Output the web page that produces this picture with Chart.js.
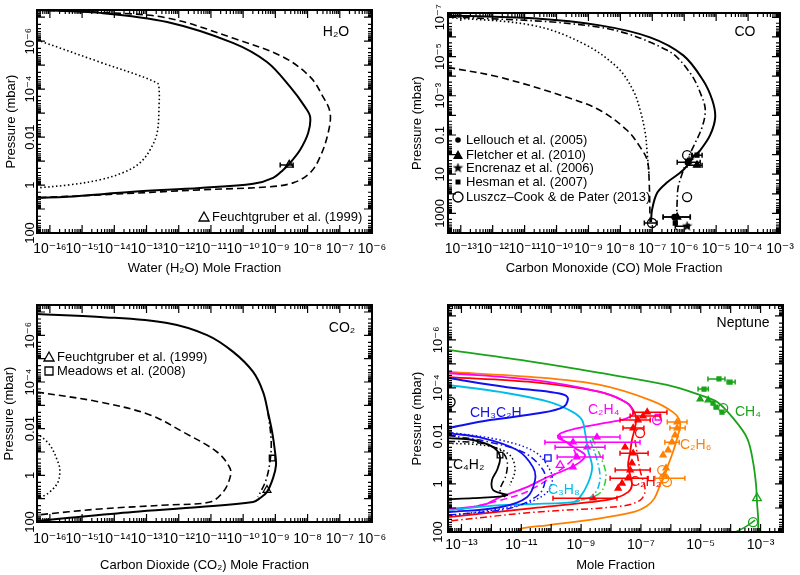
<!DOCTYPE html>
<html>
<head>
<meta charset="utf-8">
<title>H2O, CO, CO2 and Neptune hydrocarbon profiles</title>
<style>
*{padding:0;margin:0;box-sizing:border-box}
body{width:800px;height:575px;background:#fff;position:relative;overflow:hidden}
canvas{position:absolute}
</style>
</head>
<body>
<canvas id="h2oChart" width="400" height="287" style="left:0;top:0"></canvas>
<canvas id="coChart" width="400" height="287" style="left:400px;top:0"></canvas>
<canvas id="co2Chart" width="400" height="288" style="left:0;top:287px"></canvas>
<canvas id="nepChart" width="400" height="288" style="left:400px;top:287px"></canvas>
<script src="https://cdn.jsdelivr.net/npm/chart.js@4"></script>
<script>
Chart.defaults.font.family = "'Liberation Sans', Arial, 'DejaVu Sans', sans-serif";
Chart.defaults.font.size = 13;
Chart.defaults.color = '#000';

// all profile values are log10(mole fraction) and log10(pressure / mbar)

// ---- water ----
const h2oSolidLogX = [-16.4,-14.44,-12.36,-10.32,-9.26,-8.54,-8.08,-7.92,-7.98,-8.23,-8.54,-8.76,-9.07,-9.69,-11.34,-13.42,-15.47,-16.4];
const h2oSolidLogP = [-7.3,-7.18,-6.8,-5.93,-5.13,-4.09,-3.26,-2.84,-2.18,-1.47,-0.93,-0.63,-0.3,-0.05,0.12,0.28,0.49,0.53];
const h2oDashLogX = [-16.4,-14.4,-12.36,-10.32,-8.76,-7.92,-7.52,-7.3,-7.36,-7.61,-7.92,-8.45,-9.26,-11.34,-14.44,-16.4];
const h2oDashLogP = [-7.3,-7.2,-6.97,-6.13,-5.34,-4.51,-3.68,-3.01,-2.18,-1.18,-0.51,-0.09,0.08,0.2,0.41,0.53];
const h2oDotLogX = [-16.4,-14.5,-12.67,-12.61,-12.61,-12.67,-12.89,-13.2,-13.67,-14.44,-15.38,-16.4];
const h2oDotLogP = [-6.05,-5.15,-4.26,-3.97,-3.34,-2.18,-1.47,-0.93,-0.55,-0.22,-0.01,0.12];
const h2oObsLogX = [-8.57], h2oObsLogP = [-0.84], h2oObsLo = [-8.85], h2oObsHi = [-8.45];

// ---- carbon monoxide ----
const coSolidLogX = [-13.4,-10.74,-8.64,-7.07,-6.03,-5.41,-5.12,-5.03,-5.19,-5.5,-5.72,-6.03,-6.53,-6.85,-7.01,-7.04];
const coSolidLogP = [-7.1,-6.95,-6.59,-5.98,-5.06,-3.79,-2.77,-1.9,-0.99,-0.22,0.13,0.79,1.41,1.96,2.83,3.44];
const coDashDotLogX = [-13.4,-8.64,-6.53,-5.81,-5.44,-5.34,-5.44,-5.72,-5.91,-6.06,-6.19,-6.22,-6.25];
const coDashDotLogP = [-7.05,-6.49,-5.32,-4.15,-2.92,-2.26,-1.4,-0.38,0.28,0.95,1.66,2.32,3.85];
const coDashLogX = [-13.4,-11.77,-9.67,-8.64,-7.79,-7.38,-7.16,-7.1,-7.07];
const coDashLogP = [-4.45,-3.94,-2.92,-2.26,-1.24,-0.38,0.28,1.3,3.44];
const coDotLogX = [-13.4,-10.74,-9.17,-8.1,-7.6,-7.38,-7.22,-7.16,-7.1];
const coDotLogP = [-7.0,-6.59,-5.67,-4.45,-3.28,-2.26,-1.09,-0.07,1.05];
const lellouchLogX = [-5.88,-6.3], lellouchLogP = [0.39,3.19], lellouchLo = [-6.22,-6.66], lellouchHi = [-5.5,-5.81];
const fletcherLogX = [-5.6,-6.22], fletcherLogP = [0.54,3.19], fletcherLo = [-5.91,-6.66], fletcherHi = [-5.44,-5.81];
const encrenazLogX = [-5.85,-5.91], encrenazLogP = [0.3,3.65], encrenazLo = [null,-6.28], encrenazHi = [null,-5.85];
const hesmanLogX = [-5.6,-6.28], hesmanLogP = [0.03,3.49], hesmanLo = [-5.75,null], hesmanHi = [-5.44,null];
const luszczLogX = [-5.91,-5.91,-7.01], luszczLogP = [0.03,2.17,3.49], luszczLo = [null,null,-7.25], luszczHi = [null,null,-6.85];

// ---- carbon dioxide ----
const co2SolidLogX = [-16.4,-14.44,-12.36,-11.12,-10.31,-9.69,-9.38,-9.23,-9.1,-9.01,-8.98,-9.07,-9.26,-9.47,-9.69,-11.34,-13.42,-15.47,-16.4];
const co2SolidLogP = [-6.91,-6.79,-6.53,-6.01,-5.29,-4.43,-3.57,-2.71,-1.86,-1.0,-0.44,0.11,0.71,0.97,1.14,1.36,1.57,1.83,1.96];
const co2DashDotLogX = [-9.23,-9.13,-9.16,-9.29,-9.54];
const co2DashDotLogP = [-2.71,-1.51,-0.66,0.2,0.93];
const co2DashLogX = [-16.4,-14.44,-12.89,-11.87,-10.81,-10.41,-10.41,-10.62,-11.03,-12.36,-14.44,-16.4];
const co2DashLogP = [-3.57,-3.14,-2.59,-1.86,-1.0,-0.31,0.11,0.71,1.14,1.27,1.44,1.7];
const co2DotLogX = [-16.4,-16.0,-15.75,-15.69,-15.75,-16.0,-16.31];
const co2DotLogP = [-1.81,-1.3,-0.57,-0.23,0.29,0.71,0.97];
const meadowsLogX = [-9.1], meadowsLogP = [-0.74];
const feuchtCo2LogX = [-9.26], feuchtCo2LogP = [0.63];

// ---- Neptune hydrocarbons ----
const ch4LogX = [-13.45,-10.61,-8.37,-6.13,-5.02,-4.45,-3.92,-3.45,-3.25,-3.15,-3.12,-3.08,-3.08];
const ch4LogP = [-5.58,-5.08,-4.62,-4.12,-3.7,-3.41,-2.74,-1.91,-0.91,0.05,0.76,1.43,2.0];
const ch4DeepLogX = [-3.85,-3.52,-3.18];
const ch4DeepLogP = [2.0,1.8,1.51];
const c2h6LogX = [-13.45,-10.61,-8.37,-6.69,-5.93,-5.69,-5.76,-5.93,-6.13,-6.36,-6.55,-6.8,-7.2,-8.47,-10.14,-10.94,-11.14];
const c2h6LogP = [-4.66,-4.45,-4.12,-3.49,-2.99,-2.58,-2.03,-1.33,-0.66,0.05,0.6,0.92,1.15,1.45,1.72,1.84,2.0];
const c2h4LogX = [-13.45,-10.61,-8.37,-7.5,-7.26,-7.5,-8.37,-9.2,-9.7,-9.77,-9.54,-9.2,-8.87,-9.04,-9.54,-10.14,-10.81,-11.71,-12.28,-13.45];
const c2h4LogP = [-4.62,-4.33,-3.83,-3.4,-2.95,-2.72,-2.5,-2.3,-2.1,-1.92,-1.78,-1.49,-1.2,-0.91,-0.58,-0.28,0.13,0.55,0.88,1.05];
const c2h4DashLogX = [-9.8,-9.37,-9.2,-9.7,-10.71,-11.71,-13.45];
const c2h4DashLogP = [-2.03,-1.62,-1.2,-0.58,0.26,0.68,1.18];
const c2h2LogX = [-13.45,-10.61,-8.37,-7.46,-7.26,-7.16,-7.2,-7.3,-7.36,-7.43,-7.36,-7.3,-7.43,-7.86,-8.7,-10.61,-12.81,-13.45];
const c2h2LogP = [-4.45,-4.24,-3.83,-3.37,-3.08,-2.74,-2.33,-1.83,-1.33,-0.78,-0.37,0.05,0.34,0.59,0.76,1.01,1.3,1.38];
const c2h2DashDotLogX = [-7.2,-7.03,-6.86,-7.03,-7.7,-10.61,-13.45];
const c2h2DashDotLogP = [-1.83,-0.58,0.26,0.68,0.93,1.18,1.55];
const c3h8LogX = [-13.45,-11.71,-10.04,-9.27,-8.97,-8.87,-8.77,-8.63,-8.77,-9.04,-9.27,-11.71,-13.45];
const c3h8LogP = [-4.12,-3.83,-3.41,-2.99,-2.66,-2.16,-1.41,-0.7,-0.03,0.55,0.76,0.88,1.09];
const c3h8DashDotLogX = [-8.7,-8.47,-8.37,-8.6,-9.2];
const c3h8DashDotLogP = [-1.83,-1.0,-0.16,0.47,0.76];
const c3h8AltLogX = [-8.63,-8.37,-8.17,-8.37,-9.04];
const c3h8AltLogP = [-1.91,-1.2,-0.37,0.38,0.68];
const ch3c2hUpLogX = [-13.45,-11.48,-10.04,-9.54,-9.44,-9.6,-10.37,-12.05,-13.45];
const ch3c2hUpLogP = [-4.41,-4.03,-3.83,-3.7,-3.53,-3.2,-2.95,-2.66,-2.33];
const ch3c2hLogX = [-13.45,-12.28,-11.14,-10.61,-10.54,-10.81,-11.71,-13.45];
const ch3c2hLogP = [-2.12,-1.91,-1.41,-0.7,-0.16,0.55,0.97,1.18];
const ch3c2hDashLogX = [-13.45,-12.05,-10.87,-10.27,-10.21,-10.44,-11.38,-13.45];
const ch3c2hDashLogP = [-2.03,-1.74,-1.28,-0.58,-0.08,0.47,1.01,1.3];
const ch3c2hDotLogX = [-13.45,-11.71,-10.54,-10.04,-9.97,-10.21,-11.04,-13.45];
const ch3c2hDotLogP = [-2.16,-1.83,-1.33,-0.58,-0.08,0.43,0.88,1.34];
const c4h2LogX = [-13.45,-12.61,-11.94,-11.71,-11.81,-11.98,-11.94,-11.48,-12.61,-13.45];
const c4h2LogP = [-1.91,-1.83,-1.53,-1.12,-0.58,-0.16,0.26,0.47,0.59,0.63];
const c4h2DashLogX = [-13.45,-12.38,-11.71,-11.48,-11.51,-11.71,-11.54];
const c4h2DashLogP = [-1.78,-1.7,-1.41,-0.99,-0.37,0.26,0.55];
const c4h2DotLogX = [-13.45,-12.05,-11.38,-11.21,-11.38];
const c4h2DotLogP = [-1.7,-1.57,-1.2,-0.58,0.05];

const ch4ObsLogX = [-4.39,-4.02,-4.89,-4.59,-4.49,-4.29], ch4ObsLogP = [-4.37,-4.24,-3.95,-3.37,-3.2,-2.99];
const ch4ObsLo = [-4.76,-4.12,-5.09,null,null,null], ch4ObsHi = [-4.19,-3.85,-4.75,null,null,null];
const ch4TriLogX = [-5.02,-4.75], ch4TriLogP = [-3.53,-3.49];
const ch4CircLogX = [-4.25,-3.25], ch4CircLogP = [-3.16,1.59];
const ch4OpenTriLogX = [-3.12], ch4OpenTriLogP = [0.59];
const c2h6ObsLogX = [-5.79,-5.79,-5.86,-5.96,-6.09,-6.26,-6.16,-6.22], c2h6ObsLogP = [-2.58,-2.33,-2.03,-1.74,-1.41,-1.2,-0.66,-0.37];
const c2h6ObsLo = [-6.12,-6.03,null,-6.2,null,null,null,null], c2h6ObsHi = [-5.46,-5.52,null,-5.72,null,null,null,null];
const c2h6CircLogX = [-6.29,-6.22,-6.13], c2h6CircLogP = [-0.58,-0.24,-0.08], c2h6CircLo = [null,-6.53,null], c2h6CircHi = [null,-5.53,null];
const c2h4ObsLogX = [-8.47,-9.27,-8.8,-9.14,-9.27], c2h4ObsLogP = [-1.95,-1.74,-1.53,-1.12,-0.7];
const c2h4ObsLo = [-9.7,-10.21,-9.87,-9.8,null], c2h4ObsHi = [-7.7,-7.03,-8.2,-8.27,null];
const c2h4OpenTriLogX = [-9.7], c2h4OpenTriLogP = [-0.78];
const c2h4SqLogX = [-6.43], c2h4SqLogP = [-2.78];
const c2h4CircLogX = [-6.46], c2h4CircLogP = [-2.66];
const c2h2ObsLogX = [-6.79,-6.93,-7.1,-7.26,-7.53,-7.26,-7.3,-7.36,-7.43,-7.63,-7.76,-8.6];
const c2h2ObsLogP = [-2.99,-2.83,-2.66,-2.33,-1.53,-1.28,-0.87,-0.58,-0.24,-0.03,0.18,0.59];
const c2h2ObsLo = [-7.26,-7.36,-7.7,-7.6,null,-7.7,null,-7.86,-8.03,null,null,-9.94];
const c2h2ObsHi = [-6.13,-6.36,-6.69,-6.9,null,-6.76,null,-6.69,-6.76,null,null,-7.8];
const c2h2CircLogX = [-7.03], c2h2CircLogP = [-2.12];
const ch3c2hSqLogX = [-10.11], ch3c2hSqLogP = [-1.08];
const c4h2SqLogX = [-11.71], c4h2SqLogP = [-1.2];
const c4h2CircLogX = [-13.38], c4h2CircLogP = [-3.41];

// ---- axis ticks (decade exponents) ----
const wideXTicks = [-16,-15,-14,-13,-12,-11,-10,-9,-8,-7,-6];
const coXTicks = [-13,-12,-11,-10,-9,-8,-7,-6,-5,-4,-3];
const nepXTicks = [-13,-11,-9,-7,-5,-3];
const pressTicks = [-6,-4,-2,0,2];
const pressTickLabels = ['10⁻⁶','10⁻⁴','0.01','1','100'];
const coPressTicks = [-7,-5,-3,-1,1,3];
const coPressTickLabels = ['10⁻⁷','10⁻⁵','10⁻³','0.1','10','1000'];

const GREEN = '#19a319', ORANGE = '#ff8000', MAGENTA = '#ff00ff', RED = '#ff0000', BLUE = '#1010f0', CYAN = '#00bde8';
const DASH = [7, 4], DOT = [1.5, 2.5], DASHDOT = [7, 3, 1.5, 3];

const SUP = {'-': '⁻', '0': '⁰', '1': '¹', '2': '²', '3': '³', '4': '⁴', '5': '⁵', '6': '⁶', '7': '⁷', '8': '⁸', '9': '⁹'};
const sup = e => '10' + String(e).split('').map(c => SUP[c]).join('');

function starImage(size, color) {
  const c = document.createElement('canvas');
  c.width = c.height = size;
  const g = c.getContext('2d');
  g.fillStyle = color;
  g.beginPath();
  for (let k = 0; k < 10; k++) {
    const r = k % 2 ? size * 0.2 : size * 0.5;
    const a = -Math.PI / 2 + k * Math.PI / 5;
    g.lineTo(size / 2 + r * Math.cos(a), size / 2 + r * Math.sin(a));
  }
  g.closePath();
  g.fill();
  return c;
}
const STAR = starImage(11, '#000');

const toPts = (lx, lp) => lx.map((v, i) => ({ x: 10 ** v, y: 10 ** lp[i] }));
const line = (lx, lp, color, dash, width) => ({
  data: toPts(lx, lp), showLine: true, borderColor: color, borderWidth: width || 1.8,
  borderDash: dash || [], pointRadius: 0, tension: 0.35, fill: false
});
const marks = (lx, lp, style, color, filled, size, lo, hi) => ({
  data: toPts(lx, lp), showLine: false, pointStyle: style, pointRadius: size,
  borderColor: color, backgroundColor: filled ? color : 'rgba(0,0,0,0)', borderWidth: 1.3,
  errLo: lo, errHi: hi
});

function logMarks(scale) {
  const lo = Math.log10(scale.min), hi = Math.log10(scale.max);
  const out = [];
  for (let d = Math.floor(lo); d <= Math.ceil(hi); d++) {
    for (let m = 1; m < 10; m++) {
      const l = d + Math.log10(m);
      if (l >= lo - 1e-9 && l <= hi + 1e-9) out.push([10 ** l, m === 1]);
    }
  }
  return out;
}

// box with inward ticks on all four sides
const frameTicks = {
  id: 'frameTicks',
  afterDatasetsDraw(chart) {
    const { ctx, chartArea: a, scales: { x, y } } = chart;
    ctx.save();
    ctx.strokeStyle = '#000';
    ctx.lineWidth = 1.2;
    ctx.beginPath();
    logMarks(x).forEach(([v, major]) => {
      const p = x.getPixelForValue(v), len = major ? 8 : 4;
      ctx.moveTo(p, a.bottom); ctx.lineTo(p, a.bottom - len);
      ctx.moveTo(p, a.top); ctx.lineTo(p, a.top + len);
    });
    logMarks(y).forEach(([v, major]) => {
      const p = y.getPixelForValue(v), len = major ? 8 : 4;
      ctx.moveTo(a.left, p); ctx.lineTo(a.left + len, p);
      ctx.moveTo(a.right, p); ctx.lineTo(a.right - len, p);
    });
    ctx.stroke();
    ctx.lineWidth = 2;
    ctx.strokeRect(a.left, a.top, a.right - a.left, a.bottom - a.top);
    ctx.restore();
  }
};

const errorBars = {
  id: 'errorBars',
  afterDatasetsDraw(chart) {
    const { ctx, scales: { x } } = chart;
    chart.data.datasets.forEach((ds, i) => {
      if (!ds.errLo) return;
      const meta = chart.getDatasetMeta(i);
      ctx.save();
      ctx.strokeStyle = ds.borderColor;
      ctx.lineWidth = 1.5;
      meta.data.forEach((pt, j) => {
        if (ds.errLo[j] == null) return;
        const x0 = x.getPixelForValue(10 ** ds.errLo[j]), x1 = x.getPixelForValue(10 ** ds.errHi[j]);
        ctx.beginPath();
        ctx.moveTo(x0, pt.y); ctx.lineTo(x1, pt.y);
        ctx.moveTo(x0, pt.y - 2.5); ctx.lineTo(x0, pt.y + 2.5);
        ctx.moveTo(x1, pt.y - 2.5); ctx.lineTo(x1, pt.y + 2.5);
        ctx.stroke();
      });
      ctx.restore();
    });
  }
};

function drawMarker(ctx, kind, x, y, color) {
  ctx.save();
  ctx.strokeStyle = color; ctx.fillStyle = color; ctx.lineWidth = 1.3;
  ctx.beginPath();
  if (kind === 'triOpen' || kind === 'triFill') {
    ctx.moveTo(x, y - 5); ctx.lineTo(x + 5, y + 4); ctx.lineTo(x - 5, y + 4); ctx.closePath();
  } else if (kind === 'sqOpen') {
    ctx.rect(x - 4, y - 4, 8, 8);
  } else if (kind === 'sqFill') {
    ctx.rect(x - 2.5, y - 2.5, 5, 5);
  } else if (kind === 'circFill') {
    ctx.arc(x, y, 2.8, 0, Math.PI * 2);
  } else if (kind === 'circOpen') {
    ctx.arc(x, y, 5, 0, Math.PI * 2);
  } else if (kind === 'star') {
    ctx.drawImage(STAR, x - 5.5, y - 5.5);
  }
  if (kind.endsWith('Fill')) ctx.fill(); else if (kind !== 'star') ctx.stroke();
  ctx.restore();
}

const notes = {
  id: 'notes',
  afterDraw(chart, args, opts) {
    const ctx = chart.ctx;
    (opts.items || []).forEach(n => {
      ctx.save();
      ctx.font = (n.size || 13) + "px 'Liberation Sans', Arial, 'DejaVu Sans', sans-serif";
      ctx.fillStyle = n.color || '#000';
      ctx.textAlign = n.align || 'left';
      ctx.textBaseline = 'middle';
      ctx.fillText(n.text, n.x, n.y);
      ctx.restore();
      if (n.marker) drawMarker(ctx, n.marker, n.x - 8, n.y, n.color || '#000');
    });
  }
};

function makePanel(id, cfg) {
  const canvas = document.getElementById(id);
  const W = canvas.width, H = canvas.height, a = cfg.area;
  return new Chart(canvas, {
    type: 'scatter',
    data: { datasets: cfg.datasets },
    options: {
      responsive: false,
      animation: false,
      events: [],
      layout: { padding: { left: 0, top: a.top, right: W - a.right, bottom: 0 } },
      plugins: { legend: { display: false }, tooltip: { enabled: false }, notes: { items: cfg.notes } },
      scales: {
        x: {
          type: 'logarithmic',
          min: 10 ** cfg.xRange[0], max: 10 ** cfg.xRange[1],
          afterFit: s => { s.height = H - a.bottom; },
          afterBuildTicks: s => { s.ticks = cfg.xTicks.map(e => ({ value: 10 ** e })); },
          grid: { display: false }, border: { display: false },
          ticks: { autoSkip: false, maxRotation: 0, minRotation: 0, padding: cfg.xLabelPad, color: '#000',
            font: { size: 14 }, callback: (v, i) => sup(cfg.xTicks[i]) },
          title: { display: true, text: cfg.xTitle, color: '#000', font: { size: 13 }, padding: { top: 0, bottom: cfg.xTitlePad } }
        },
        y: {
          type: 'logarithmic', reverse: true,
          min: 10 ** cfg.yRange[0], max: 10 ** cfg.yRange[1],
          afterFit: s => { s.width = a.left; },
          afterBuildTicks: s => { s.ticks = cfg.yTicks.map(e => ({ value: 10 ** e })); },
          grid: { display: false }, border: { display: false },
          ticks: { autoSkip: false, minRotation: 90, maxRotation: 90, crossAlign: 'center', padding: cfg.yLabelPad, color: '#000',
            callback: (v, i) => cfg.yLabels[i] },
          title: { display: true, text: 'Pressure (mbar)', color: '#000', font: { size: 13 }, padding: { top: cfg.yTitlePad, bottom: 0 } }
        }
      }
    },
    plugins: [frameTicks, errorBars, notes]
  });
}

makePanel('h2oChart', {
  area: { left: 37, right: 372, top: 10, bottom: 233 },
  xRange: [-16.4, -6], yRange: [-7.3, 2],
  xTicks: wideXTicks, yTicks: pressTicks, yLabels: pressTickLabels,
  xTitle: 'Water (H₂O) Mole Fraction', xTitlePad: 11, xLabelPad: 0, yLabelPad: -15, yTitlePad: 4,
  datasets: [
    line(h2oSolidLogX, h2oSolidLogP, '#000', [], 2),
    line(h2oDashLogX, h2oDashLogP, '#000', DASH, 1.6),
    line(h2oDotLogX, h2oDotLogP, '#000', DOT, 1.6),
    marks(h2oObsLogX, h2oObsLogP, 'triangle', '#000', false, 4.5, h2oObsLo, h2oObsHi)
  ],
  notes: [
    { text: 'H₂O', x: 336, y: 32, align: 'center', size: 14 },
    { text: 'Feuchtgruber et al. (1999)', x: 212, y: 217, marker: 'triOpen' }
  ]
});

makePanel('coChart', {
  area: { left: 48, right: 380, top: 13, bottom: 233 },
  xRange: [-13.4, -3], yRange: [-7.2, 4],
  xTicks: coXTicks, yTicks: coPressTicks, yLabels: coPressTickLabels,
  xTitle: 'Carbon Monoxide (CO) Mole Fraction', xTitlePad: 11, xLabelPad: 0, yLabelPad: -15, yTitlePad: 10,
  datasets: [
    line(coSolidLogX, coSolidLogP, '#000', [], 2),
    line(coDashDotLogX, coDashDotLogP, '#000', DASHDOT, 1.6),
    line(coDashLogX, coDashLogP, '#000', DASH, 1.6),
    line(coDotLogX, coDotLogP, '#000', DOT, 1.6),
    marks(lellouchLogX, lellouchLogP, 'circle', '#000', true, 2.8, lellouchLo, lellouchHi),
    marks(fletcherLogX, fletcherLogP, 'triangle', '#000', true, 4, fletcherLo, fletcherHi),
    marks(encrenazLogX, encrenazLogP, STAR, '#000', true, 5, encrenazLo, encrenazHi),
    marks(hesmanLogX, hesmanLogP, 'rect', '#000', true, 2.8, hesmanLo, hesmanHi),
    marks(luszczLogX, luszczLogP, 'circle', '#000', false, 4.5, luszczLo, luszczHi)
  ],
  notes: [
    { text: 'CO', x: 345, y: 32, align: 'center', size: 14 },
    { text: 'Lellouch et al. (2005)', x: 66, y: 140, marker: 'circFill' },
    { text: 'Fletcher et al. (2010)', x: 66, y: 155, marker: 'triFill' },
    { text: 'Encrenaz et al. (2006)', x: 66, y: 168, marker: 'star' },
    { text: 'Hesman et al. (2007)', x: 66, y: 182, marker: 'sqFill' },
    { text: 'Luszcz\u2013Cook & de Pater (2013)', x: 66, y: 197, marker: 'circOpen' }
  ]
});

makePanel('co2Chart', {
  area: { left: 37, right: 372, top: 18, bottom: 235 },
  xRange: [-16.4, -6], yRange: [-7.3, 2],
  xTicks: wideXTicks, yTicks: pressTicks, yLabels: pressTickLabels,
  xTitle: 'Carbon Dioxide (CO₂) Mole Fraction', xTitlePad: 2, xLabelPad: 1, yLabelPad: -15, yTitlePad: 2,
  datasets: [
    line(co2SolidLogX, co2SolidLogP, '#000', [], 2),
    line(co2DashDotLogX, co2DashDotLogP, '#000', DASHDOT, 1.6),
    line(co2DashLogX, co2DashLogP, '#000', DASH, 1.6),
    line(co2DotLogX, co2DotLogP, '#000', DOT, 1.6),
    marks(meadowsLogX, meadowsLogP, 'rect', '#000', false, 4),
    marks(feuchtCo2LogX, feuchtCo2LogP, 'triangle', '#000', false, 4.5)
  ],
  notes: [
    { text: 'CO₂', x: 342, y: 41, align: 'center', size: 14 },
    { text: 'Feuchtgruber et al. (1999)', x: 57, y: 70, marker: 'triOpen' },
    { text: 'Meadows et al. (2008)', x: 57, y: 84, marker: 'sqOpen' }
  ]
});

makePanel('nepChart', {
  area: { left: 48, right: 383, top: 18, bottom: 245 },
  xRange: [-13.45, -2.25], yRange: [-7.45, 2],
  xTicks: nepXTicks, yTicks: pressTicks, yLabels: pressTickLabels,
  xTitle: 'Mole Fraction', xTitlePad: 2, xLabelPad: -3, yLabelPad: -12, yTitlePad: 10,
  datasets: [
    line(c4h2LogX, c4h2LogP, '#000', [], 1.8),
    line(c4h2DashLogX, c4h2DashLogP, '#000', DASHDOT, 1.5),
    line(c4h2DotLogX, c4h2DotLogP, '#000', DOT, 1.5),
    line(ch3c2hUpLogX, ch3c2hUpLogP, BLUE, [], 2),
    line(ch3c2hLogX, ch3c2hLogP, BLUE, [], 1.8),
    line(ch3c2hDashLogX, ch3c2hDashLogP, BLUE, DASHDOT, 1.5),
    line(ch3c2hDotLogX, ch3c2hDotLogP, BLUE, DOT, 1.5),
    line(c3h8AltLogX, c3h8AltLogP, '#30d030', DASHDOT, 1.5),
    line(c3h8DashDotLogX, c3h8DashDotLogP, CYAN, DASHDOT, 1.5),
    line(c3h8LogX, c3h8LogP, CYAN, [], 1.8),
    line(c2h4DashLogX, c2h4DashLogP, MAGENTA, DASH, 1.5),
    line(c2h4LogX, c2h4LogP, MAGENTA, [], 1.8),
    line(c2h2DashDotLogX, c2h2DashDotLogP, RED, DASHDOT, 1.5),
    line(c2h2LogX, c2h2LogP, RED, [], 1.8),
    line(c2h6LogX, c2h6LogP, ORANGE, [], 1.8),
    line(ch4LogX, ch4LogP, GREEN, [], 1.8),
    line(ch4DeepLogX, ch4DeepLogP, GREEN, [], 1.5),
    marks(c4h2SqLogX, c4h2SqLogP, 'rect', '#000', false, 4),
    marks(c4h2CircLogX, c4h2CircLogP, 'circle', '#000', false, 5),
    marks(ch3c2hSqLogX, ch3c2hSqLogP, 'rect', BLUE, false, 4.5),
    marks(c2h4ObsLogX, c2h4ObsLogP, 'triangle', MAGENTA, true, 3.5, c2h4ObsLo, c2h4ObsHi),
    marks(c2h4OpenTriLogX, c2h4OpenTriLogP, 'triangle', MAGENTA, false, 4.5),
    marks(c2h4SqLogX, c2h4SqLogP, 'rect', MAGENTA, false, 4),
    marks(c2h4CircLogX, c2h4CircLogP, 'circle', MAGENTA, false, 4.5),
    marks(c2h2ObsLogX, c2h2ObsLogP, 'triangle', RED, true, 3.5, c2h2ObsLo, c2h2ObsHi),
    marks(c2h2CircLogX, c2h2CircLogP, 'circle', RED, false, 4.5),
    marks(c2h6ObsLogX, c2h6ObsLogP, 'triangle', ORANGE, true, 3.5, c2h6ObsLo, c2h6ObsHi),
    marks(c2h6CircLogX, c2h6CircLogP, 'circle', ORANGE, false, 4.5, c2h6CircLo, c2h6CircHi),
    marks(ch4ObsLogX, ch4ObsLogP, 'rect', GREEN, true, 2.8, ch4ObsLo, ch4ObsHi),
    marks(ch4TriLogX, ch4TriLogP, 'triangle', GREEN, true, 3.5),
    marks(ch4CircLogX, ch4CircLogP, 'circle', GREEN, false, 4.5),
    marks(ch4OpenTriLogX, ch4OpenTriLogP, 'triangle', GREEN, false, 5)
  ],
  notes: [
    { text: 'Neptune', x: 343, y: 36, align: 'center', size: 14 },
    { text: 'CH₄', x: 335, y: 125, color: GREEN, size: 14 },
    { text: 'C₂H₆', x: 280, y: 158, color: ORANGE, size: 14 },
    { text: 'C₂H₄', x: 188, y: 123, color: MAGENTA, size: 14 },
    { text: 'CH₃C₂H', x: 70, y: 126, color: BLUE, size: 14 },
    { text: 'C₄H₂', x: 53, y: 178, color: '#000', size: 14 },
    { text: 'C₃H₈', x: 148, y: 203, color: CYAN, size: 14 },
    { text: 'C₂H₂', x: 230, y: 195, color: RED, size: 14 }
  ]
});
</script>
</body>
</html>
